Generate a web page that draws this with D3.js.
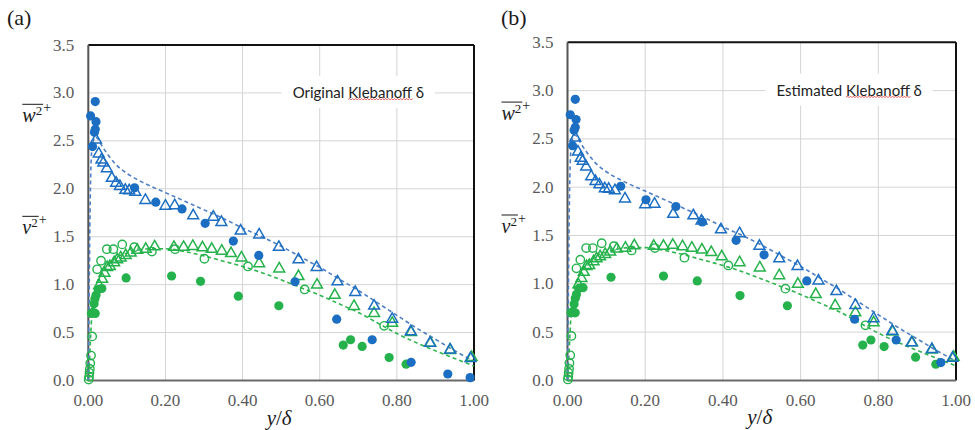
<!DOCTYPE html>
<html>
<head>
<meta charset="utf-8">
<script src="https://cdn.jsdelivr.net/npm/d3@7"></script>
<style>
  body { margin: 0; background: #fff; }
  svg { display: block; }
  .serif { font-family: "Liberation Serif", "DejaVu Serif", serif; }
  .note { font-family: Lato, "Open Sans", sans-serif; }
</style>
</head>
<body>
<svg id="chart" width="975" height="430"></svg>
<script>
// ---- axis ticks ----
const yTicks = [0, 0.5, 1.0, 1.5, 2.0, 2.5, 3.0, 3.5];
const xTicks = [0, 0.2, 0.4, 0.6, 0.8, 1.0];
const panelLabels = ["(a)", "(b)"];
const panelNotes = ["Original Klebanoff \u03b4", "Estimated Klebanoff \u03b4"];

// ---- w'^2+ : Klebanoff data (filled circles), original and estimated delta ----
const wKlebOrigX = [0.006, 0.018, 0.020, 0.018, 0.016, 0.011, 0.120, 0.175, 0.243, 0.303, 0.376, 0.442, 0.536, 0.644, 0.736, 0.837, 0.932, 0.990];
const wKlebOrigY = [2.76, 2.91, 2.70, 2.62, 2.59, 2.44, 2.01, 1.86, 1.79, 1.64, 1.455, 1.305, 1.03, 0.64, 0.425, 0.19, 0.068, 0.03];
const wKlebEstX = [0.007, 0.020, 0.022, 0.020, 0.017, 0.013, 0.137, 0.202, 0.279, 0.347, 0.434, 0.506, 0.616, 0.739, 0.846, 0.961];
const wKlebEstY = [2.75, 2.91, 2.70, 2.62, 2.59, 2.43, 2.01, 1.87, 1.80, 1.64, 1.45, 1.30, 1.03, 0.633, 0.418, 0.185];

// ---- v'^2+ : Klebanoff data (filled circles), original and estimated delta ----
const vKlebOrigX = [0.008, 0.012, 0.018, 0.015, 0.017, 0.020, 0.026, 0.035, 0.098, 0.216, 0.291, 0.389, 0.494, 0.661, 0.680, 0.710, 0.780, 0.824];
const vKlebOrigY = [0.70, 0.71, 0.70, 0.80, 0.85, 0.89, 0.95, 0.96, 1.07, 1.09, 1.035, 0.88, 0.78, 0.37, 0.425, 0.355, 0.24, 0.17];
const vKlebEstX = [0.009, 0.014, 0.020, 0.017, 0.020, 0.023, 0.030, 0.040, 0.112, 0.247, 0.334, 0.444, 0.566, 0.760, 0.781, 0.815, 0.896, 0.948];
const vKlebEstY = [0.70, 0.71, 0.70, 0.79, 0.85, 0.89, 0.955, 0.96, 1.068, 1.08, 1.03, 0.878, 0.773, 0.366, 0.418, 0.35, 0.24, 0.167];

// ---- w'^2+ : second data set (open triangles) ----
const wTriX = [0.020, 0.027, 0.034, 0.039, 0.048, 0.061, 0.072, 0.082, 0.096, 0.106, 0.122, 0.148, 0.200, 0.224, 0.272, 0.324, 0.345, 0.395, 0.443, 0.494, 0.545, 0.592, 0.646, 0.692, 0.741, 0.788, 0.836, 0.886, 0.938, 0.991];
const wTriY = [2.52, 2.375, 2.31, 2.28, 2.22, 2.12, 2.07, 2.035, 1.995, 1.99, 1.975, 1.89, 1.83, 1.835, 1.73, 1.715, 1.66, 1.57, 1.53, 1.40, 1.27, 1.19, 1.04, 0.93, 0.787, 0.65, 0.52, 0.40, 0.33, 0.24];

// ---- v'^2+ : second data set (open triangles) ----
const vTriX = [0.028, 0.036, 0.042, 0.049, 0.056, 0.067, 0.075, 0.084, 0.097, 0.110, 0.127, 0.149, 0.172, 0.222, 0.247, 0.271, 0.296, 0.320, 0.346, 0.370, 0.397, 0.443, 0.495, 0.545, 0.593, 0.639, 0.689, 0.741, 0.788, 0.837, 0.887, 0.938, 0.994];
const vTriY = [1.00, 1.066, 1.13, 1.19, 1.20, 1.24, 1.27, 1.29, 1.315, 1.34, 1.37, 1.38, 1.405, 1.40, 1.40, 1.41, 1.395, 1.38, 1.36, 1.335, 1.29, 1.23, 1.175, 1.095, 1.006, 0.90, 0.784, 0.71, 0.607, 0.513, 0.40, 0.325, 0.25];

// ---- v'^2+ : third data set (open circles) ----
const vCircX = [0.001, 0.002, 0.003, 0.004, 0.005, 0.007, 0.010, 0.023, 0.033, 0.048, 0.065, 0.088, 0.119, 0.165, 0.225, 0.301, 0.414, 0.561, 0.767];
const vCircY = [0.01, 0.04, 0.08, 0.12, 0.18, 0.26, 0.46, 1.16, 1.25, 1.37, 1.37, 1.42, 1.39, 1.345, 1.37, 1.27, 1.19, 0.95, 0.57];

// ---- model profiles (dashed) ----
const wModelX = [0, 0.002, 0.004, 0.006, 0.009, 0.013, 0.018, 0.025, 0.035, 0.05, 0.07, 0.10, 0.13, 0.16, 0.20, 0.25, 0.30, 0.35, 0.40, 0.45, 0.50, 0.55, 0.60, 0.65, 0.70, 0.75, 0.80, 0.85, 0.90, 0.95, 1.00];
const wModelY = [0, 0.8, 1.6, 2.1, 2.4, 2.5, 2.54, 2.52, 2.45, 2.36, 2.26, 2.16, 2.09, 2.03, 1.96, 1.87, 1.78, 1.69, 1.59, 1.50, 1.40, 1.29, 1.18, 1.06, 0.94, 0.81, 0.68, 0.55, 0.43, 0.31, 0.20];
const vModelX = [0, 0.003, 0.006, 0.009, 0.012, 0.016, 0.022, 0.03, 0.04, 0.055, 0.075, 0.10, 0.13, 0.16, 0.20, 0.25, 0.30, 0.35, 0.40, 0.45, 0.50, 0.55, 0.60, 0.65, 0.70, 0.75, 0.80, 0.85, 0.90, 0.95, 1.00];
const vModelY = [0, 0.2, 0.45, 0.68, 0.82, 0.92, 1.01, 1.09, 1.16, 1.23, 1.29, 1.33, 1.36, 1.375, 1.375, 1.345, 1.30, 1.245, 1.19, 1.125, 1.05, 0.97, 0.89, 0.80, 0.71, 0.60, 0.49, 0.395, 0.31, 0.23, 0.15];

// ---- styling ----
const BLUE = "#1b6ec2";
const GREEN = "#25b24c";
const BLUE_LINE = "#4f7fc4";
const GREEN_LINE = "#2fb450";
const GRID = "#d4d4d4";
const TICK_COLOR = "#5a5a5a";

const zip = (xs, ys) => xs.map((x, i) => ({ x, y: ys[i] }));

const svg = d3.select("#chart");

const panels = [
  { left: 88.3, right: 474, top: 45, bottom: 380.5, wKleb: zip(wKlebOrigX, wKlebOrigY), vKleb: zip(vKlebOrigX, vKlebOrigY), label: panelLabels[0], note: panelNotes[0], noteX: 0.70, labelX: 7 },
  { left: 567.5, right: 956, top: 42.3, bottom: 380.4, wKleb: zip(wKlebEstX, wKlebEstY), vKleb: zip(vKlebEstX, vKlebEstY), label: panelLabels[1], note: panelNotes[1], noteX: 0.725, labelX: 501 }
];

function trianglePath(cx, cy) {
  const s = 5.4;
  return `M${cx},${cy - s}L${cx + s},${cy + s * 0.75}L${cx - s},${cy + s * 0.75}Z`;
}

panels.forEach(p => {
  const g = svg.append("g");
  const x = d3.scaleLinear().domain([0, 1]).range([p.left, p.right]);
  const y = d3.scaleLinear().domain([0, 3.5]).range([p.bottom, p.top]);

  // grid
  g.append("g").selectAll("line").data(yTicks.slice(1, -1)).join("line")
    .attr("x1", p.left).attr("x2", p.right)
    .attr("y1", d => y(d)).attr("y2", d => y(d))
    .attr("stroke", GRID).attr("stroke-width", 1);
  g.append("g").selectAll("line").data(xTicks.slice(1, -1)).join("line")
    .attr("y1", p.top).attr("y2", p.bottom)
    .attr("x1", d => x(d)).attr("x2", d => x(d))
    .attr("stroke", GRID).attr("stroke-width", 1);

  // annotation with a white box that hides the grid behind it
  const note = g.append("text")
    .attr("class", "note")
    .attr("x", x(p.noteX)).attr("y", y(3.0) + 5)
    .attr("text-anchor", "middle")
    .attr("font-size", 15)
    .attr("fill", "#222")
    .text(p.note);
  const bb = note.node().getBBox();
  g.insert("rect", "text.note")
    .attr("x", bb.x - 11).attr("y", bb.y - 7)
    .attr("width", bb.width + 22).attr("height", bb.height + 14)
    .attr("fill", "#fff");
  // red spell-check squiggle under "Klebanoff"
  const k0 = p.note.indexOf("Klebanoff");
  const nn = note.node();
  const sx = nn.getStartPositionOfChar(k0).x;
  const ex = nn.getEndPositionOfChar(k0 + 8).x;
  const by = bb.y + bb.height - 1.5;
  let d = `M${sx},${by}`;
  for (let xx = sx, up = true; xx < ex; xx += 1.5, up = !up) d += `L${xx + 1.5},${by + (up ? -1 : 0.6)}`;
  g.append("path").attr("d", d).attr("fill", "none").attr("stroke", "#e23b3b").attr("stroke-width", 0.8);

  // y tick labels
  g.append("g").selectAll("text").data(yTicks).join("text")
    .attr("class", "serif")
    .attr("x", p.left - 14).attr("y", d => y(d) + 5.5)
    .attr("text-anchor", "end")
    .attr("font-size", 17)
    .attr("fill", TICK_COLOR)
    .text(d => d.toFixed(1));
  // x tick labels
  g.append("g").selectAll("text").data(xTicks).join("text")
    .attr("class", "serif")
    .attr("x", d => x(d)).attr("y", p.bottom + 25.5)
    .attr("text-anchor", "middle")
    .attr("font-size", 17)
    .attr("fill", TICK_COLOR)
    .text(d => d.toFixed(2));

  // frame
  g.append("line").attr("x1", p.left).attr("x2", p.right).attr("y1", p.top).attr("y2", p.top).attr("stroke", "#111").attr("stroke-width", 2);
  g.append("line").attr("x1", p.right).attr("x2", p.right).attr("y1", p.top).attr("y2", p.bottom).attr("stroke", "#111").attr("stroke-width", 2);
  g.append("line").attr("x1", p.left).attr("x2", p.left).attr("y1", p.top).attr("y2", p.bottom).attr("stroke", "#555").attr("stroke-width", 2);
  g.append("line").attr("x1", p.left).attr("x2", p.right).attr("y1", p.bottom).attr("y2", p.bottom).attr("stroke", "#6a6a6a").attr("stroke-width", 2);

  // model profiles
  const line = d3.line().x(d => x(d.x)).y(d => y(d.y)).curve(d3.curveMonotoneX);
  g.append("path").datum(zip(vModelX, vModelY)).attr("d", line)
    .attr("fill", "none").attr("stroke", GREEN_LINE).attr("stroke-width", 1.6).attr("stroke-dasharray", "4,3");
  g.append("path").datum(zip(wModelX, wModelY)).attr("d", line)
    .attr("fill", "none").attr("stroke", BLUE_LINE).attr("stroke-width", 1.6).attr("stroke-dasharray", "4,3");

  // v open circles
  g.append("g").selectAll("circle").data(zip(vCircX, vCircY)).join("circle")
    .attr("cx", d => x(d.x)).attr("cy", d => y(d.y)).attr("r", 4.2)
    .attr("fill", "none").attr("stroke", GREEN).attr("stroke-width", 1.4);
  // v triangles
  g.append("g").selectAll("path").data(zip(vTriX, vTriY)).join("path")
    .attr("d", d => trianglePath(x(d.x), y(d.y)))
    .attr("fill", "none").attr("stroke", GREEN).attr("stroke-width", 1.5);
  // w triangles
  g.append("g").selectAll("path").data(zip(wTriX, wTriY)).join("path")
    .attr("d", d => trianglePath(x(d.x), y(d.y)))
    .attr("fill", "none").attr("stroke", BLUE).attr("stroke-width", 1.5);
  // Klebanoff filled circles
  g.append("g").selectAll("circle").data(p.vKleb).join("circle")
    .attr("cx", d => x(d.x)).attr("cy", d => y(d.y)).attr("r", 4.6)
    .attr("fill", GREEN);
  g.append("g").selectAll("circle").data(p.wKleb).join("circle")
    .attr("cx", d => x(d.x)).attr("cy", d => y(d.y)).attr("r", 4.6)
    .attr("fill", BLUE);

  // axis title
  const xt = g.append("text")
    .attr("class", "serif")
    .attr("x", (p.left + p.right) / 2 - 2).attr("y", p.bottom + 44)
    .attr("text-anchor", "middle")
    .attr("font-size", 21).attr("font-style", "italic")
    .attr("fill", "#1a1a1a");
  xt.append("tspan").text("y");
  xt.append("tspan").attr("font-style", "normal").text("/");
  xt.append("tspan").text("\u03b4");

  // y labels: overlined w^2 and v^2 with superscript +
  function ylab(sym, baseY) {
    const t = g.append("text")
      .attr("class", "serif")
      .attr("x", p.left - 66).attr("y", baseY)
      .attr("font-size", 20).attr("fill", "#1a1a1a");
    t.append("tspan").attr("font-style", "italic").text(sym);
    t.append("tspan").attr("font-size", 13).attr("dy", -7).text("2");
    const b = t.node().getBBox();
    g.append("line").attr("x1", b.x).attr("x2", b.x + b.width + 1)
      .attr("y1", b.y + 1).attr("y2", b.y + 1)
      .attr("stroke", "#1a1a1a").attr("stroke-width", 1);
    g.append("text").attr("class", "serif")
      .attr("x", b.x + b.width + 1).attr("y", baseY - 10)
      .attr("font-size", 14).attr("fill", "#1a1a1a").text("+");
  }
  ylab("w", y(2.85) + 15);
  ylab("v", y(1.65) + 12);

  // panel label
  svg.append("text").attr("class", "serif").attr("x", p.labelX).attr("y", 25)
    .attr("font-size", 22).attr("fill", "#1a1a1a")
    .text(p.label);
});
</script>
</body>
</html>
